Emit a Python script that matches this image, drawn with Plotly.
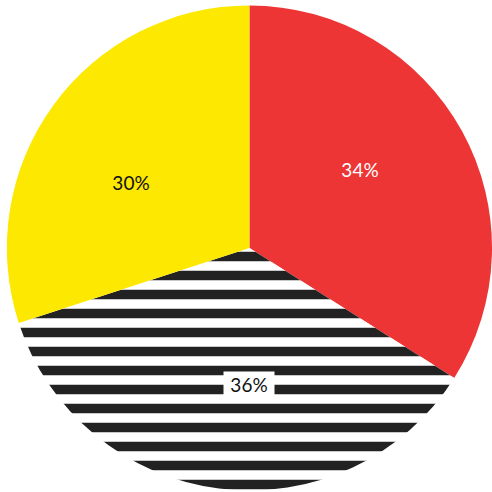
import math
import plotly.graph_objects as go

labels = ["A", "B", "C"]
values = [34, 36, 30]
colors = ["#EE3535", "#FFFFFF", "#FCE800"]
text_colors = ["#FFFFFF", "#111111", "#111111"]
text_bg = ["rgba(0,0,0,0)", "#FFFFFF", "rgba(0,0,0,0)"]

W = H = 492
dom_x = [0.014, 1.0]
dom_y = [0.003, 0.989]

fig = go.Figure(go.Pie(
    labels=labels,
    values=values,
    sort=False,
    direction="clockwise",
    rotation=0,
    textinfo="none",
    marker=dict(
        colors=colors,
        line=dict(width=0),
        pattern=dict(
            shape=["", "-", ""],
            fgcolor="#222222",
            bgcolor=colors,
            size=19,
            solidity=0.5,
            fillmode="replace",
        ),
    ),
    domain=dict(x=dom_x, y=dom_y),
    showlegend=False,
    hoverinfo="skip",
))

# label annotations placed from the data (slice mid-angle)
cx = (dom_x[0] + dom_x[1]) / 2 * W
cy = (dom_y[0] + dom_y[1]) / 2 * H
R = min((dom_x[1] - dom_x[0]) * W, (dom_y[1] - dom_y[0]) * H) / 2
total = sum(values)
cum = 0
for v, tc, bg in zip(values, text_colors, text_bg):
    mid = (cum + v / 2) / total * 360 - 7
    cum += v
    r = 0.56 * R
    px = cx + r * math.sin(math.radians(mid))
    py = cy + r * math.cos(math.radians(mid))
    fig.add_annotation(
        x=px / W, y=py / H, xref="paper", yref="paper",
        xanchor="center", yanchor="middle",
        text=f"{round(v / total * 100)}%", showarrow=False,
        font=dict(color=tc, size=19, family="Lato"),
        bgcolor=bg, borderpad=2, width=46, height=20,
    )

fig.update_layout(
    width=W, height=H,
    margin=dict(l=0, r=0, t=0, b=0),
    paper_bgcolor="white",
    plot_bgcolor="white",
)

fig.write_html("out.html")
